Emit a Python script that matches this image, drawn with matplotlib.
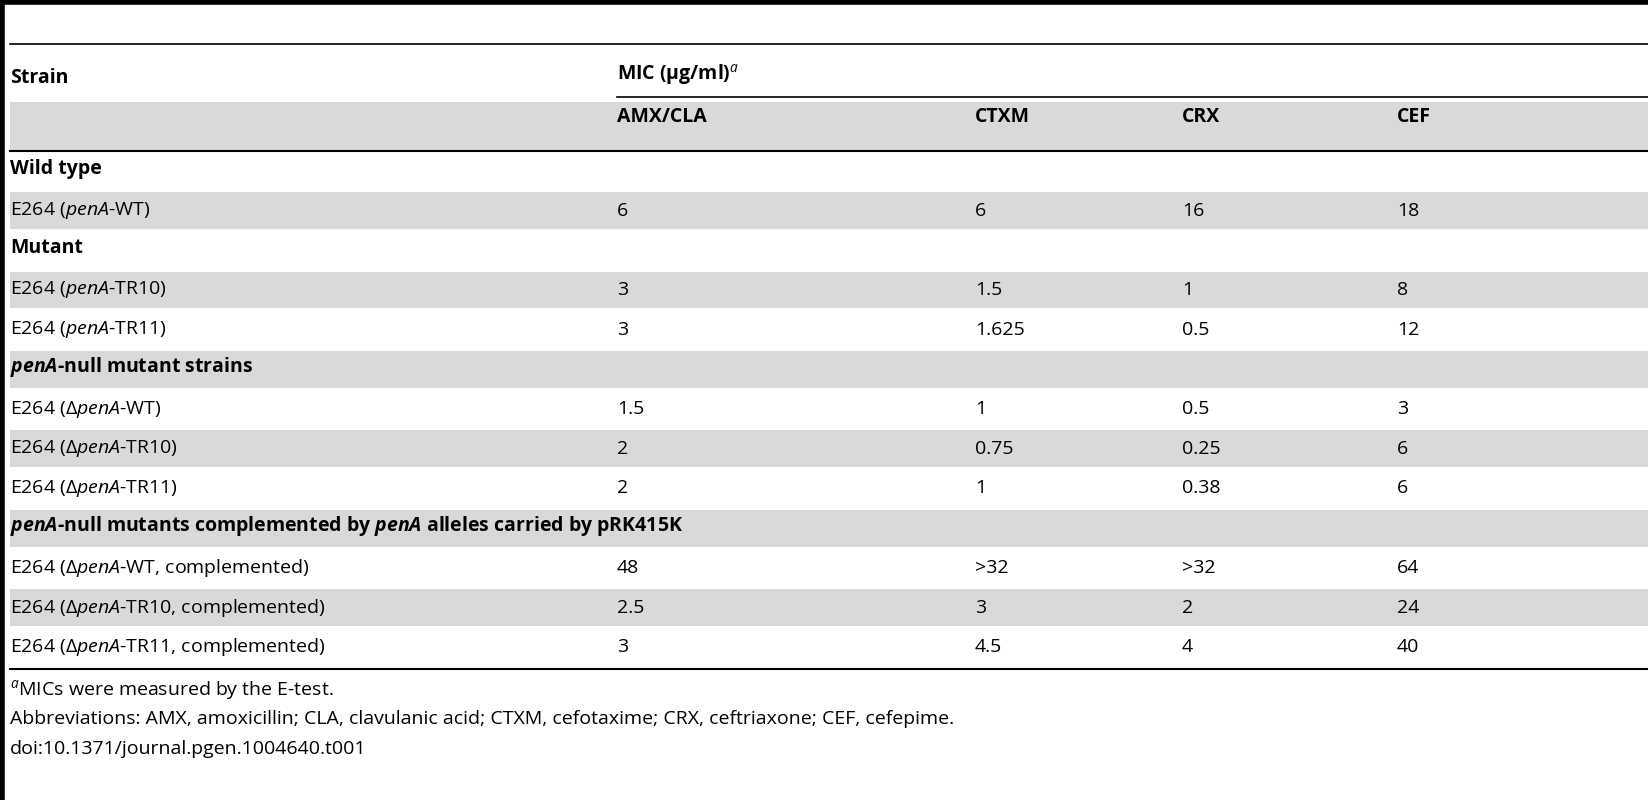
import matplotlib.pyplot as plt

plt.rcParams['font.family'] = 'Open Sans'
plt.rcParams['mathtext.fontset'] = 'custom'
plt.rcParams['mathtext.rm'] = 'Open Sans'
plt.rcParams['mathtext.it'] = 'Open Sans:italic'
plt.rcParams['mathtext.bf'] = 'Open Sans:bold'
plt.rcParams['mathtext.bfit'] = 'Open Sans:italic:bold'

drugs = ["AMX/CLA", "CTXM", "CRX", "CEF"]

# (label, values or None for a group heading)
rows = [
    ("Wild type", None),
    ("E264 ($\\mathit{penA}$-WT)", ["6", "6", "16", "18"]),
    ("Mutant", None),
    ("E264 ($\\mathit{penA}$-TR10)", ["3", "1.5", "1", "8"]),
    ("E264 ($\\mathit{penA}$-TR11)", ["3", "1.625", "0.5", "12"]),
    ("$\\mathbfit{penA}$-null mutant strains", None),
    ("E264 (Δ$\\mathit{penA}$-WT)", ["1.5", "1", "0.5", "3"]),
    ("E264 (Δ$\\mathit{penA}$-TR10)", ["2", "0.75", "0.25", "6"]),
    ("E264 (Δ$\\mathit{penA}$-TR11)", ["2", "1", "0.38", "6"]),
    ("$\\mathbfit{penA}$-null mutants complemented by $\\mathbfit{penA}$ alleles carried by pRK415K", None),
    ("E264 (Δ$\\mathit{penA}$-WT, complemented)", ["48", ">32", ">32", "64"]),
    ("E264 (Δ$\\mathit{penA}$-TR10, complemented)", ["2.5", "3", "2", "24"]),
    ("E264 (Δ$\\mathit{penA}$-TR11, complemented)", ["3", "4.5", "4", "40"]),
]

notes = [
    "$^{\\mathit{a}}$MICs were measured by the E-test.",
    "Abbreviations: AMX, amoxicillin; CLA, clavulanic acid; CTXM, cefotaxime; CRX, ceftriaxone; CEF, cefepime.",
    "doi:10.1371/journal.pgen.1004640.t001",
]

W, H = 1649, 800
fig = plt.figure(figsize=(W / 100, H / 100), dpi=100)
ax = fig.add_axes([0, 0, 1, 1])
ax.set_xlim(0, W)
ax.set_ylim(H, 0)
ax.axis('off')

grey = '#d9d9d9'
fs = 14
col_x = [10, 617, 975, 1182, 1397]

# frame lines
ax.plot([0, W], [2, 2], color='black', lw=4)
ax.plot([2, 2], [0, H], color='black', lw=4)
ax.plot([10, W], [44, 44], color='black', lw=1.2)
ax.plot([617, W], [97, 97], color='black', lw=1.2)
ax.add_patch(plt.Rectangle((10, 102), W, 48, color=grey, lw=0))
ax.plot([10, W], [151, 151], color='black', lw=1.5)

ax.text(col_x[0], 78, "Strain", fontsize=fs, fontweight='bold', va='center')
ax.text(col_x[1], 74, "MIC (μg/ml)$^{\\mathit{a}}$", fontsize=fs, fontweight='bold', va='center')
for x, d in zip(col_x[1:], drugs):
    ax.text(x, 117, d, fontsize=fs, fontweight='bold', va='center')

top = 151
rh = 39.7
for i, (label, vals) in enumerate(rows):
    y0 = top + i * rh
    yc = y0 + rh / 2
    if i % 2 == 1:
        ax.add_patch(plt.Rectangle((10, y0 + 1.5), W, rh - 3, color=grey, lw=0))
    if vals is None:
        ax.text(col_x[0], yc - 2, label, fontsize=fs, fontweight='bold', va='center')
    else:
        ax.text(col_x[0], yc, label, fontsize=fs, va='center')
        for x, v in zip(col_x[1:], vals):
            ax.text(x, yc, v, fontsize=fs, va='center')

bottom = top + len(rows) * rh + 2
ax.plot([10, W], [bottom, bottom], color='black', lw=1.5)

for k, n in enumerate(notes):
    ax.text(col_x[0], 690 + k * 29.5, n, fontsize=fs, va='center')

fig.savefig('out.png', dpi=100)
